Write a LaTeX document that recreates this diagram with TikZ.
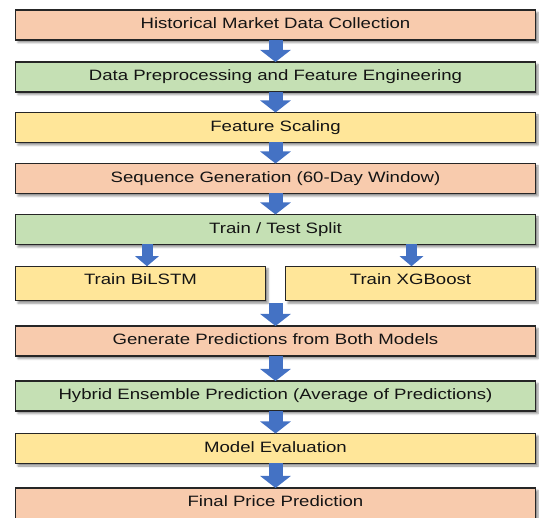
\documentclass[tikz,border=0pt]{standalone}
\usepackage{fontspec}
\setmainfont{Liberation Sans}
\usetikzlibrary{arrows.meta,shadows.blur,calc}
\definecolor{boxsalmon}{HTML}{F8CBAD}
\definecolor{boxgreen}{HTML}{C5E0B4}
\definecolor{boxyellow}{HTML}{FFE699}
\definecolor{flowblue}{HTML}{4472C4}
% wide-set label text
\newcommand{\stretchtext}[1]{\scalebox{1.24}[1]{#1}}

\begin{document}
\begin{tikzpicture}[x=1pt,y=-1pt,
  stage/.style={rectangle, draw=black!85, line width=1.2pt,
    minimum width=520pt, minimum height=30pt, inner sep=0pt, outer sep=0pt,
    font=\fontsize{15}{18}\selectfont, text=black!92,
    text height=10.8pt, text depth=3pt,
    blur shadow={shadow xshift=2.5pt, shadow yshift=-2.5pt,
      shadow blur radius=2pt, shadow opacity=45}},
  halfstage/.style={stage, minimum width=250pt, minimum height=34.5pt},
  salmonbox/.style={fill=boxsalmon},
  greenbox/.style={fill=boxgreen},
  yellowbox/.style={fill=boxyellow},
  flow/.style={draw=flowblue, line width=14pt,
    -{Triangle[width=30pt,length=12pt]}},
  splitflow/.style={draw=flowblue, line width=11pt,
    -{Triangle[width=23pt,length=10pt]}}
]
\useasboundingbox (0,0) rectangle (539,518);
\clip (0,0) rectangle (539,518);

% pipeline stages
\node[stage, salmonbox] (collect) at (275.5,25) {\stretchtext{Historical Market Data Collection}};
\node[stage, greenbox]  (prep)    at (275.5,77) {\stretchtext{Data Preprocessing and Feature Engineering}};
\node[stage, yellowbox] (scale)   at (275.5,127.5) {\stretchtext{Feature Scaling}};
\node[stage, salmonbox] (seq)     at (275.5,178.5) {\stretchtext{Sequence Generation (60-Day Window)}};
\node[stage, greenbox]  (split)   at (275.5,229.5) {\stretchtext{Train / Test Split}};
\node[halfstage, yellowbox] (bilstm) at (140.5,283.5) {\raisebox{3pt}{\stretchtext{Train BiLSTM}}};
\node[halfstage, yellowbox] (xgb)    at (410.5,283.5) {\raisebox{3pt}{\stretchtext{Train XGBoost}}};
\node[stage, salmonbox] (gen)     at (275.5,341) {\stretchtext{Generate Predictions from Both Models}};
\node[stage, greenbox]  (hybrid)  at (275.5,396) {\stretchtext{Hybrid Ensemble Prediction (Average of Predictions)}};
\node[stage, yellowbox] (eval)    at (275.5,448.5) {\stretchtext{Model Evaluation}};
\node[stage, salmonbox, minimum height=34pt] (final) at (275.5,505) {\raisebox{2pt}{\stretchtext{Final Price Prediction}}};

% flow arrows
\draw[flow] (collect.south) -- (prep.north);
\draw[flow] (prep.south) -- (scale.north);
\draw[flow] (scale.south) -- (seq.north);
\draw[flow] (seq.south) -- (split.north);

\coordinate (toL) at ([xshift=6.5pt]bilstm.north);
\coordinate (toR) at ([xshift=1pt]xgb.north);
\draw[splitflow] (toL |- split.south) -- (toL);
\draw[splitflow] (toR |- split.south) -- (toR);

\coordinate (join) at ([yshift=-2.5pt]bilstm.south -| gen.north);
\draw[flow] (join) -- (gen.north);
\draw[flow] (gen.south) -- (hybrid.north);
\draw[flow] (hybrid.south) -- (eval.north);
\draw[flow] (eval.south) -- (final.north);
\end{tikzpicture}
\end{document}
